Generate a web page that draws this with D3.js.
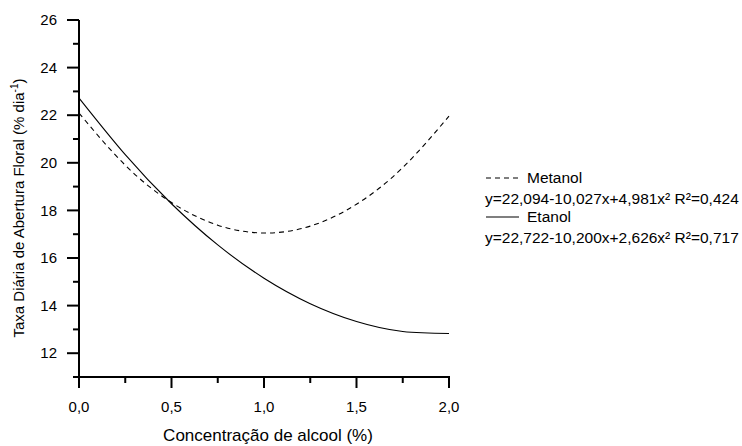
<!DOCTYPE html>
<html>
<head>
<meta charset="utf-8">
<script src="https://cdn.jsdelivr.net/npm/d3@7"></script>
<style>
  body { margin: 0; background: #fff; }
  svg text { font-family: Arial, "Liberation Sans", sans-serif; fill: #000; }
</style>
</head>
<body>
<svg id="chart" width="742" height="446"></svg>
<script>
// values
const concentracao = [0, 0.25, 0.5, 0.75, 1.0, 1.25, 1.5, 1.75, 2.0];
const metanol = [22.09, 19.90, 18.33, 17.38, 17.05, 17.34, 18.26, 19.80, 21.96];
const etanol = [22.72, 20.34, 18.28, 16.55, 15.15, 14.08, 13.33, 12.91, 12.83];

const xMajor = [0, 0.5, 1.0, 1.5, 2.0];
const xMinor = [0.25, 0.75, 1.25, 1.75];
const yMajor = [12, 14, 16, 18, 20, 22, 24, 26];
const yMinor = [11, 13, 15, 17, 19, 21, 23, 25];

const legendLabels = ['Metanol', 'Etanol'];
const equations = [
    'y=22,094-10,027x+4,981x\u00B2 R\u00B2=0,424',
    'y=22,722-10,200x+2,626x\u00B2 R\u00B2=0,717'
];

const svg = d3.select('#chart');

const x = d3.scaleLinear().domain([0, 2]).range([79, 449]);
const y = d3.scaleLinear().domain([11, 26]).range([377, 20]);

const fmt = d => d.toFixed(1).replace('.', ',');

// x axis
const xAxis = svg.append('g').attr('transform', `translate(0,${y(11)})`);
xAxis.append('line')
    .attr('x1', x(0) - 1).attr('x2', x(2) + 1)
    .attr('stroke', '#000').attr('stroke-width', 2);
xAxis.selectAll('.maj').data(xMajor).join('line')
    .attr('x1', d => x(d)).attr('x2', d => x(d))
    .attr('y1', 0).attr('y2', 11)
    .attr('stroke', '#000').attr('stroke-width', 2);
xAxis.selectAll('.min').data(xMinor).join('line')
    .attr('x1', d => x(d)).attr('x2', d => x(d))
    .attr('y1', 0).attr('y2', 6)
    .attr('stroke', '#000').attr('stroke-width', 2);
xAxis.selectAll('text').data(xMajor).join('text')
    .attr('x', d => x(d)).attr('y', 35)
    .attr('text-anchor', 'middle')
    .style('font-size', '15px')
    .text(fmt);

// y axis
const yAxis = svg.append('g').attr('transform', `translate(${x(0)},0)`);
yAxis.append('line')
    .attr('y1', y(26)).attr('y2', y(11) + 1)
    .attr('stroke', '#000').attr('stroke-width', 2);
yAxis.selectAll('.maj').data(yMajor).join('line')
    .attr('y1', d => y(d)).attr('y2', d => y(d))
    .attr('x1', -12).attr('x2', 0)
    .attr('stroke', '#000').attr('stroke-width', 2);
yAxis.selectAll('.min').data(yMinor).join('line')
    .attr('y1', d => y(d)).attr('y2', d => y(d))
    .attr('x1', -6).attr('x2', 0)
    .attr('stroke', '#000').attr('stroke-width', 2);
yAxis.selectAll('text').data(yMajor).join('text')
    .attr('x', -22).attr('y', d => y(d))
    .attr('dy', '0.35em')
    .attr('text-anchor', 'end')
    .style('font-size', '15px')
    .text(d => d);

// axis titles
svg.append('text')
    .attr('x', 268).attr('y', 441)
    .attr('text-anchor', 'middle')
    .style('font-size', '17px')
    .text('Concentração de alcool (%)');

const yTitle = svg.append('text')
    .attr('transform', 'translate(24,208) rotate(-90)')
    .attr('text-anchor', 'middle')
    .style('font-size', '15px');
yTitle.append('tspan').text('Taxa Diária de Abertura Floral (% dia');
yTitle.append('tspan').attr('dy', -6).style('font-size', '10px').text('-1');
yTitle.append('tspan').attr('dy', 6).text(')');

// curves
const line = d3.line()
    .x((d, i) => x(concentracao[i]))
    .y(d => y(d))
    .curve(d3.curveNatural);

svg.append('path').datum(metanol)
    .attr('d', line)
    .attr('fill', 'none').attr('stroke', '#000').attr('stroke-width', 1.1)
    .attr('stroke-dasharray', '5,4');

svg.append('path').datum(etanol)
    .attr('d', line)
    .attr('fill', 'none').attr('stroke', '#000').attr('stroke-width', 1.1);

// legend
const legend = svg.append('g').attr('transform', 'translate(485,0)');
const rows = [178, 217];
legend.selectAll('line').data(legendLabels).join('line')
    .attr('x1', 1).attr('x2', 34)
    .attr('y1', (d, i) => rows[i]).attr('y2', (d, i) => rows[i])
    .attr('stroke', '#000').attr('stroke-width', 1.1)
    .attr('stroke-dasharray', (d, i) => i === 0 ? '5,4' : null);
legend.selectAll('.lbl').data(legendLabels).join('text')
    .attr('class', 'lbl')
    .attr('x', 42).attr('y', (d, i) => rows[i])
    .attr('dy', '0.35em')
    .style('font-size', '15.5px')
    .text(d => d);
legend.selectAll('.eq').data(equations).join('text')
    .attr('class', 'eq')
    .attr('x', 0).attr('y', (d, i) => rows[i] + 21)
    .attr('dy', '0.35em')
    .style('font-size', '15.5px')
    .text(d => d);
</script>
</body>
</html>
